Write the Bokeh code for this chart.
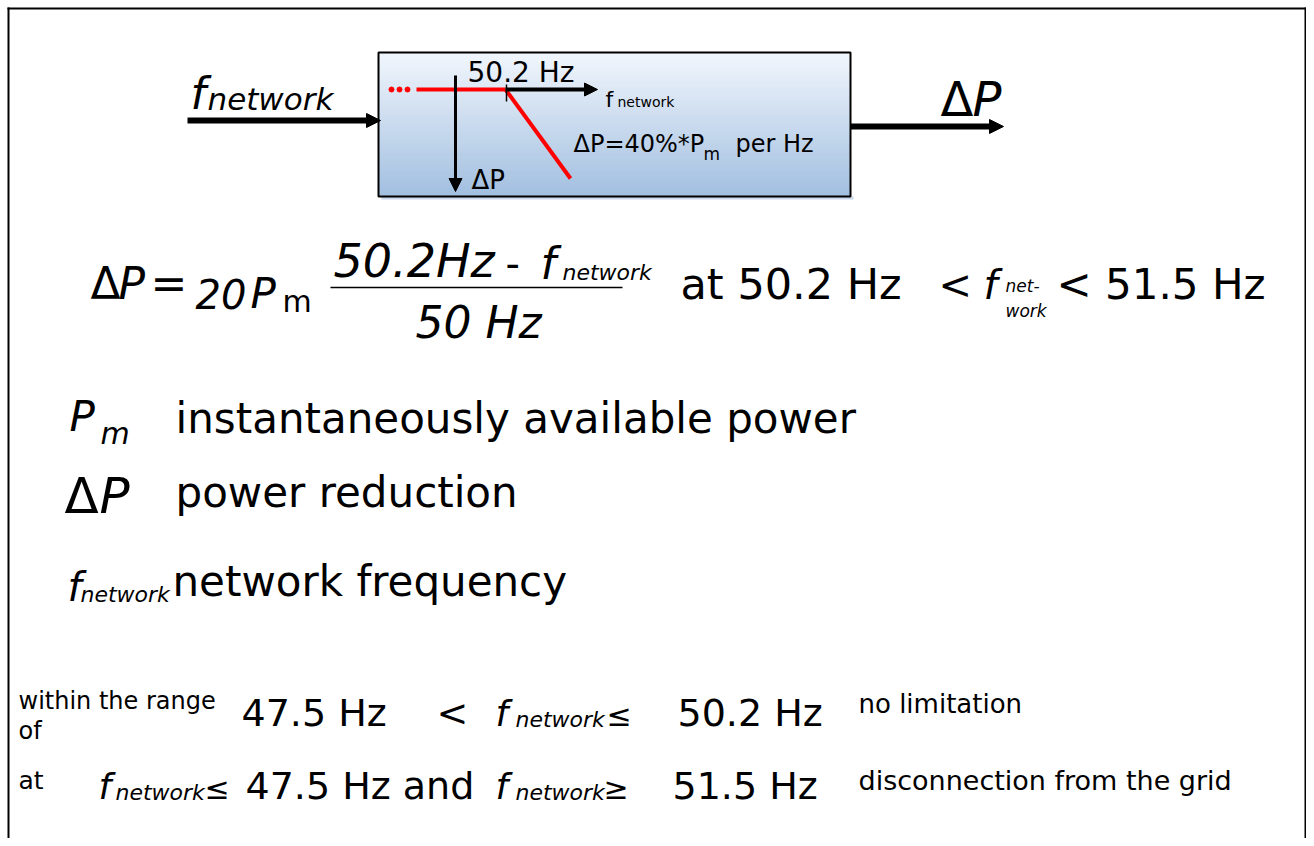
from bokeh.plotting import figure
from bokeh.models import Range1d, Arrow, NormalHead, ColumnDataSource
from bokeh.core.properties import value
from bokeh.embed import file_html
from bokeh.resources import INLINE

# ---- content (texts / values of the diagram) ----
threshold_label = "50.2 Hz"
axis_labels = ["f", "network", "\u0394P"]
droop_label = ["\u0394P=40%*P", "m", "per Hz"]
condition_texts = ["at 50.2 Hz", "<", "< 51.5 Hz"]
legend_texts = ["instantaneously available power", "power reduction", "network frequency"]
range_texts = ["within the range", "of", "47.5 Hz", "<", "50.2 Hz", "no limitation"]
disc_texts = ["at", "\u2264", "47.5 Hz and", "\u2265", "51.5 Hz", "disconnection from the grid"]

FONT = value("DejaVu Sans")
W, H = 1306, 838

p = figure(width=W, height=H, x_range=Range1d(0, W), y_range=Range1d(H, 0),
           output_backend="svg", toolbar_location=None, x_axis_type=None, y_axis_type=None,
           min_border=0)
p.grid.visible = False
p.outline_line_color = None
p.background_fill_color = "white"
p.border_fill_color = "white"

# frame (left, top, right)
p.segment(x0=[8, 7, 1305], y0=[7, 8, 7], x1=[8, 1306, 1305], y1=[H, 8, H],
          line_color="black", line_width=2)

# gradient box
x0b, x1b, y0b, y1b = 378, 850, 52, 196
n = 72
top = (241, 246, 252)
bot = (162, 191, 224)
ys0, ys1, cols = [], [], []
for i in range(n):
    t = i / (n - 1)
    c = tuple(int(round(top[k] + (bot[k] - top[k]) * t)) for k in range(3))
    ys0.append(y0b + (y1b - y0b) * i / n)
    ys1.append(y0b + (y1b - y0b) * (i + 1) / n + 0.5)
    cols.append("#%02x%02x%02x" % c)
p.quad(left=[x0b + 3], right=[x1b + 3], top=[y1b], bottom=[y1b + 3], fill_color="#c8d7ec", line_color=None)
p.quad(left=[x0b] * n, right=[x1b] * n, top=ys0, bottom=ys1, fill_color=cols, line_color=None)
p.quad(left=[x0b], right=[x1b], top=[y0b], bottom=[y1b], fill_color=None, line_color="black", line_width=2)

# arrows
def arrow(xs, ys, xe, ye, w, size):
    p.add_layout(Arrow(end=NormalHead(size=size, fill_color="black", line_color="black", line_width=1),
                       x_start=xs, y_start=ys, x_end=xe, y_end=ye, line_width=w, line_color="black"))

arrow(187, 120, 380, 120, 6, 14)
arrow(850, 126, 1003, 126, 6, 14)
arrow(455, 75, 455, 191, 3, 13)
arrow(505, 89, 597, 89, 4, 13)

# characteristic curve
p.scatter(x=[391, 399, 407], y=[89, 89, 89], size=5, color="#ff0000")
p.segment(x0=[416, 505], y0=[89, 89], x1=[505, 570], y1=[89, 178], line_color="#ff0000", line_width=4)
p.segment(x0=[506], y0=[84], x1=[506], y1=[101], line_color="black", line_width=1.5)

K = 0.385  # rendered-baseline correction

def txt(items, style="normal"):
    src = ColumnDataSource(dict(x=[i[0] for i in items], y=[i[1] - K * i[3] for i in items],
                                text=[i[2] for i in items], size=["%dpx" % i[3] for i in items]))
    p.text(x="x", y="y", text="text", text_font_size="size", source=src, text_font=FONT,
           text_font_style=style, text_baseline="alphabetic", text_align="left", text_color="black")

upright = [
    (467, 83, threshold_label, 28),
    (605, 107, axis_labels[0], 22),
    (617, 107, axis_labels[1], 14),
    (573, 153, droop_label[0], 24),
    (703, 160, droop_label[1], 17),
    (735, 153, droop_label[2], 24),
    (471, 190, axis_labels[2], 26),
    (90, 300, "\u0394", 44),
    (150, 300, "=", 44),
    (282, 313, "m", 30),
    (680, 300, condition_texts[0], 43),
    (938, 300, condition_texts[1], 40),
    (1056, 300, condition_texts[2], 42),
    (940, 117, "\u0394", 48),
    (175, 434, legend_texts[0], 42),
    (64, 515, "\u0394", 50),
    (175, 508, legend_texts[1], 42),
    (172, 597, legend_texts[2], 42),
    (18, 710, range_texts[0], 24),
    (18, 740, range_texts[1], 24),
    (241, 727, range_texts[2], 38),
    (436, 727, range_texts[3], 38),
    (606, 727, "\u2264", 30),
    (677, 727, range_texts[4], 38),
    (858, 714, range_texts[5], 26),
    (18, 790, disc_texts[0], 25),
    (204, 800, disc_texts[1], 30),
    (245, 800, disc_texts[2], 38),
    (603, 800, disc_texts[3], 30),
    (672, 800, disc_texts[4], 38),
    (858, 790, disc_texts[5], 27),
    (505, 278, "-", 40),
]
italic = [
    (190, 110, "f", 44),
    (207, 110, "network", 31),
    (972, 117, "P", 48),
    (118, 300, "P", 44),
    (195, 309, "20", 40),
    (250, 309, "P", 42),
    (333, 278, "50.2Hz", 46),
    (540, 280, "f", 44),
    (562, 280, "network", 22),
    (415, 339, "50 Hz", 44),
    (983, 300, "f", 40),
    (1005, 292, "net-", 17),
    (1005, 317, "work", 17),
    (69, 432, "P", 42),
    (100, 445, "m", 30),
    (99, 515, "P", 50),
    (67, 602, "f", 40),
    (80, 602, "network", 22),
    (495, 727, "f", 36),
    (515, 727, "network", 22),
    (98, 800, "f", 36),
    (115, 800, "network", 22),
    (495, 800, "f", 36),
    (515, 800, "network", 22),
]
txt(upright)
txt(italic, "italic")

# fraction bar
p.segment(x0=[330], y0=[287], x1=[622], y1=[287], line_color="black", line_width=1.5)

open("out.html", "w").write(file_html(p, INLINE))
